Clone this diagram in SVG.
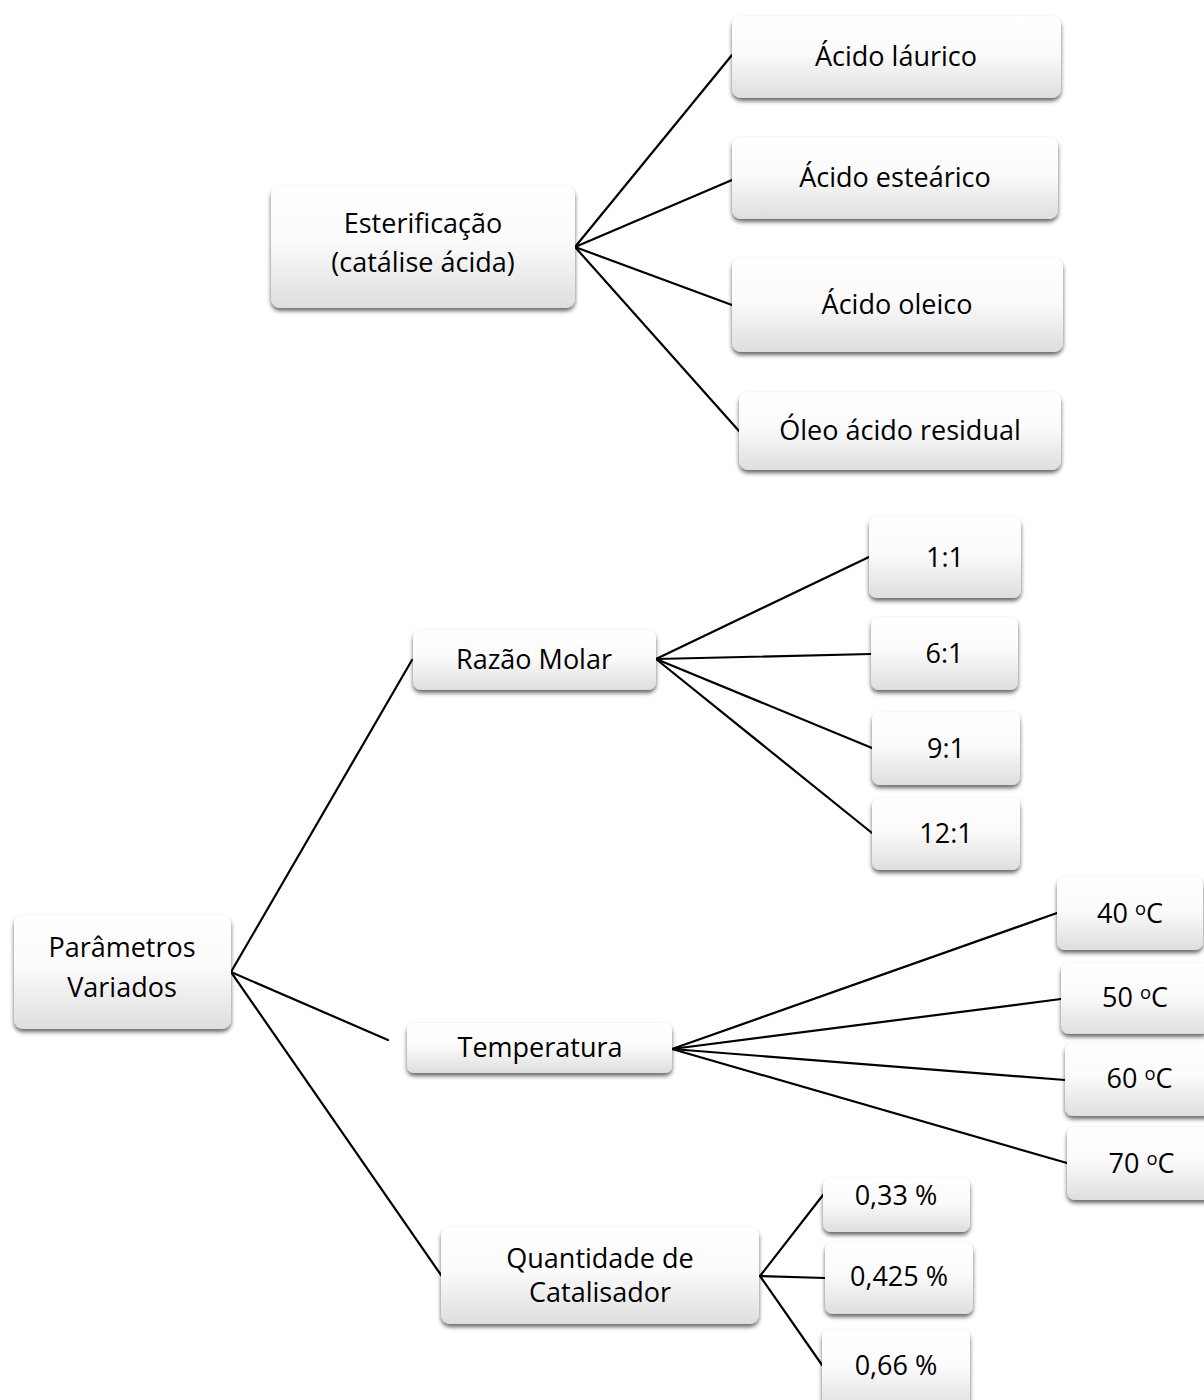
<svg xmlns="http://www.w3.org/2000/svg" width="1204" height="1400" viewBox="0 0 1204 1400">
<defs>
<linearGradient id="g" x1="0" y1="0" x2="0" y2="1">
<stop offset="0" stop-color="#ffffff"/>
<stop offset="0.45" stop-color="#fbfbfb"/>
<stop offset="1" stop-color="#dedede"/>
</linearGradient>
<filter id="sh" x="-10%" y="-20%" width="120%" height="150%">
<feDropShadow dx="0" dy="3" stdDeviation="2.2" flood-color="#000" flood-opacity="0.6"/>
</filter>
</defs>
<style>
.n rect{fill:url(#g);filter:url(#sh);}
.n text{font-family:"Open Sans","Liberation Sans",sans-serif;font-size:27px;fill:#000;text-anchor:middle;}
.c line{stroke:#000;stroke-width:2.2;stroke-linecap:round;}
.s{font-size:68%;}
</style>
<rect width="1204" height="1400" fill="#fff"/>
<g class="c" id="connectors">
<line x1="575" y1="247" x2="732" y2="55"/>
<line x1="575" y1="247" x2="732" y2="180"/>
<line x1="575" y1="247" x2="732" y2="305"/>
<line x1="575" y1="247" x2="739" y2="431"/>
<line x1="231" y1="972" x2="412" y2="660"/>
<line x1="231" y1="972" x2="388" y2="1040"/>
<line x1="231" y1="972" x2="441" y2="1275"/>
<line x1="656" y1="659" x2="869" y2="557"/>
<line x1="656" y1="659" x2="871" y2="654"/>
<line x1="656" y1="659" x2="872" y2="748"/>
<line x1="656" y1="659" x2="872" y2="833"/>
<line x1="672" y1="1049" x2="1057" y2="913"/>
<line x1="672" y1="1049" x2="1061" y2="999"/>
<line x1="672" y1="1049" x2="1065" y2="1080"/>
<line x1="672" y1="1049" x2="1067" y2="1163"/>
<line x1="760" y1="1276" x2="823" y2="1195"/>
<line x1="760" y1="1276" x2="825" y2="1278"/>
<line x1="760" y1="1276" x2="822" y2="1365"/>
</g>
<g class="n" id="n-esterificacao"><rect x="271" y="186" width="304" height="122" rx="9"/><text x="423" y="233">Esterificação</text><text x="423" y="272">(catálise ácida)</text></g>
<g class="n" id="n-laurico"><rect x="732" y="16" width="329" height="82" rx="9"/><text x="896" y="66">Ácido láurico</text></g>
<g class="n" id="n-estearico"><rect x="732" y="137" width="326" height="82" rx="9"/><text x="895" y="187">Ácido esteárico</text></g>
<g class="n" id="n-oleico"><rect x="732" y="258" width="331" height="94" rx="9"/><text x="897" y="314">Ácido oleico</text></g>
<g class="n" id="n-residual"><rect x="739" y="392" width="322" height="78" rx="9"/><text x="900" y="440">Óleo ácido residual</text></g>
<g class="n" id="n-parametros"><rect x="14" y="915" width="217" height="114" rx="9"/><text x="122" y="957">Parâmetros</text><text x="122" y="997">Variados</text></g>
<g class="n" id="n-razao"><rect x="413" y="630" width="243" height="60" rx="8"/><text x="534" y="669">Razão Molar</text></g>
<g class="n" id="n-temperatura"><rect x="407" y="1023" width="265" height="50" rx="7"/><text x="540" y="1057">Temperatura</text></g>
<g class="n" id="n-quantidade"><rect x="441" y="1227" width="318" height="97" rx="9"/><text x="600" y="1268">Quantidade de</text><text x="600" y="1302">Catalisador</text></g>
<g class="n" id="n-1-1"><rect x="869" y="517" width="152" height="81" rx="8"/><text x="945" y="567">1:1</text></g>
<g class="n" id="n-6-1"><rect x="871" y="617" width="147" height="73" rx="8"/><text x="944.5" y="663">6:1</text></g>
<g class="n" id="n-9-1"><rect x="872" y="712" width="148" height="73" rx="8"/><text x="946" y="758">9:1</text></g>
<g class="n" id="n-12-1"><rect x="872" y="798" width="148" height="72" rx="8"/><text x="946" y="843">12:1</text></g>
<g class="n" id="n-40"><rect x="1057" y="877" width="146" height="73" rx="8"/><text x="1130" y="923">40 <tspan class="s" dy="-8">o</tspan><tspan dy="8">C</tspan></text></g>
<g class="n" id="n-50"><rect x="1061" y="963" width="148" height="71" rx="8"/><text x="1135" y="1007">50 <tspan class="s" dy="-8">o</tspan><tspan dy="8">C</tspan></text></g>
<g class="n" id="n-60"><rect x="1065" y="1043" width="149" height="73" rx="8"/><text x="1139.5" y="1088">60 <tspan class="s" dy="-8">o</tspan><tspan dy="8">C</tspan></text></g>
<g class="n" id="n-70"><rect x="1067" y="1127" width="149" height="73" rx="8"/><text x="1141.5" y="1173">70 <tspan class="s" dy="-8">o</tspan><tspan dy="8">C</tspan></text></g>
<g class="n" id="n-033"><rect x="823" y="1178" width="147" height="54" rx="8"/><text x="896" y="1205">0,33 %</text></g>
<g class="n" id="n-0425"><rect x="825" y="1242" width="148" height="72" rx="8"/><text x="899" y="1286">0,425 %</text></g>
<g class="n" id="n-066"><rect x="822" y="1330" width="148" height="80" rx="8"/><text x="896" y="1375">0,66 %</text></g>
</svg>
